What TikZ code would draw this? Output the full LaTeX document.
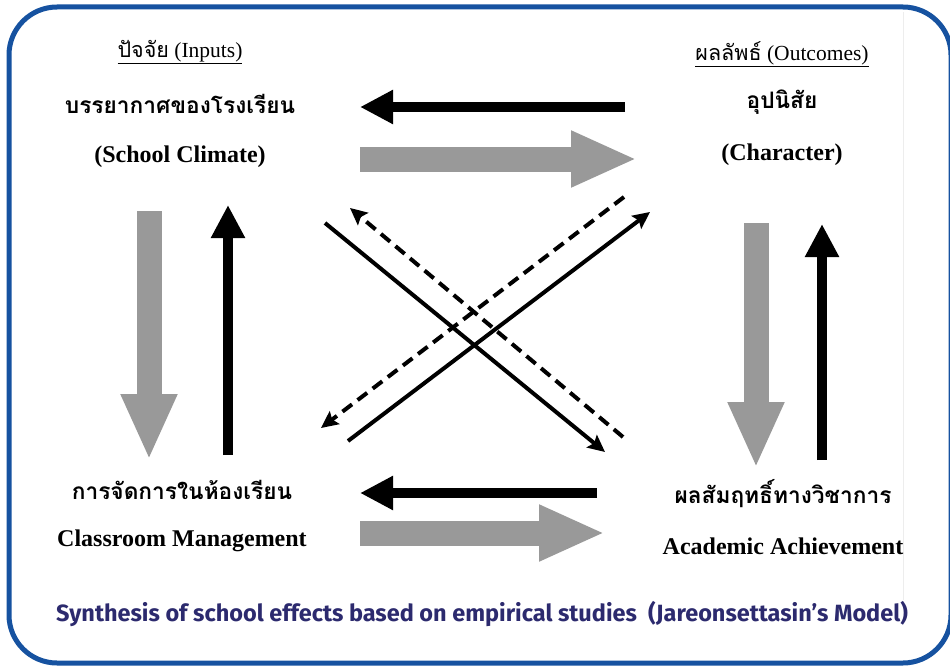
\documentclass[tikz,border=0pt]{standalone}
\usepackage{fontspec}
\setmainfont{Liberation Serif}
\newfontfamily\thaifont[Script=Thai]{Loma}
\newfontfamily\capfont{Fira Sans}
\usetikzlibrary{arrows.meta}
\definecolor{framecol}{RGB}{22,82,160}
\definecolor{fatgray}{RGB}{153,153,153}
\definecolor{capcol}{RGB}{44,42,110}
\tikzset{
>=Stealth,
head node/.style={font=\fontsize{21.5}{25}\selectfont},
thai node/.style={font=\thaifont\bfseries\fontsize{22.7}{27}\selectfont},
eng node/.style={font=\bfseries\fontsize{24}{28}\selectfont},
fat/.style={draw=fatgray,line width=25pt,-{Triangle[length=66pt,width=52pt]}},
thin/.style={draw=black,line width=10pt,-{Triangle[length=33pt,width=32pt]}},
cross/.style={line width=4pt,-{Stealth[length=17pt,width=16pt,inset=3pt]}},
crossdash/.style={cross,dash pattern=on 12pt off 7pt}}

\begin{document}
\begin{tikzpicture}[x=1pt,y=-1pt]
\useasboundingbox (0,0) rectangle (950,666);
\draw[framecol,line width=5pt,rounded corners=48pt] (9,7) rectangle (951,663);
\draw[black!7,line width=0.8pt] (903,12) -- (903,600);

\node[head node] (inputs) at (180,52) {\underline{{\thaifont ปัจจัย} (Inputs)}};
\node[thai node] (climth) at (180,104) {บรรยากาศของโรงเรียน};
\node[eng node] (climen) at (180,157) {(School Climate)};
\node[head node] (outcomes) at (782,54) {\underline{{\thaifont ผลลัพธ์} (Outcomes)}};
\node[thai node] (charth) at (782,102) {อุปนิสัย};
\node[eng node] (charen) at (782,155) {(Character)};
\node[thai node] (mgmtth) at (182,490) {การจัดการในห้องเรียน};
\node[eng node] (mgmten) at (182,541) {Classroom Management};
\node[thai node] (achth) at (783,494) {ผลสัมฤทธิ์ทางวิชาการ};
\node[eng node] (achen) at (783,546) {Academic Achievement};
\node[font=\capfont\bfseries\fontsize{23.5}{28}\selectfont,text=capcol] (caption) at (482,614)
  {Synthesis of school effects based on empirical studies\ \ (Jareonsettasin’s Model)};

\coordinate (ct1) at (625,107); \coordinate (ct2) at (360,107);
\coordinate (ct3) at (360,159); \coordinate (ct4) at (637,159);
\coordinate (cl1) at (149,211); \coordinate (cl2) at (149,460);
\coordinate (cl3) at (228,455); \coordinate (cl4) at (228,205);
\coordinate (cr1) at (756,223); \coordinate (cr2) at (756,468);
\coordinate (cr3) at (822,460); \coordinate (cr4) at (822,224);
\coordinate (cb1) at (597,493); \coordinate (cb2) at (360,493);
\coordinate (cb3) at (360,533); \coordinate (cb4) at (605,533);
\coordinate (dx1) at (325,223); \coordinate (dx2) at (605,452);
\coordinate (dx3) at (623,437); \coordinate (dx4) at (350,208);
\coordinate (dx5) at (348,441); \coordinate (dx6) at (650,212);
\coordinate (dx7) at (624,197); \coordinate (dx8) at (321,428);

\draw[thin] (ct1) -- (ct2);
\draw[fat] (ct3) -- (ct4);
\draw[fat] (cl1) -- (cl2);
\draw[thin] (cl3) -- (cl4);
\draw[fat] (cr1) -- (cr2);
\draw[thin] (cr3) -- (cr4);
\draw[thin] (cb1) -- (cb2);
\draw[fat] (cb3) -- (cb4);

\draw[cross] (dx1) -- (dx2);
\draw[crossdash] (dx3) -- (dx4);
\draw[cross] (dx5) -- (dx6);
\draw[crossdash] (dx7) -- (dx8);

\end{tikzpicture}
\end{document}
